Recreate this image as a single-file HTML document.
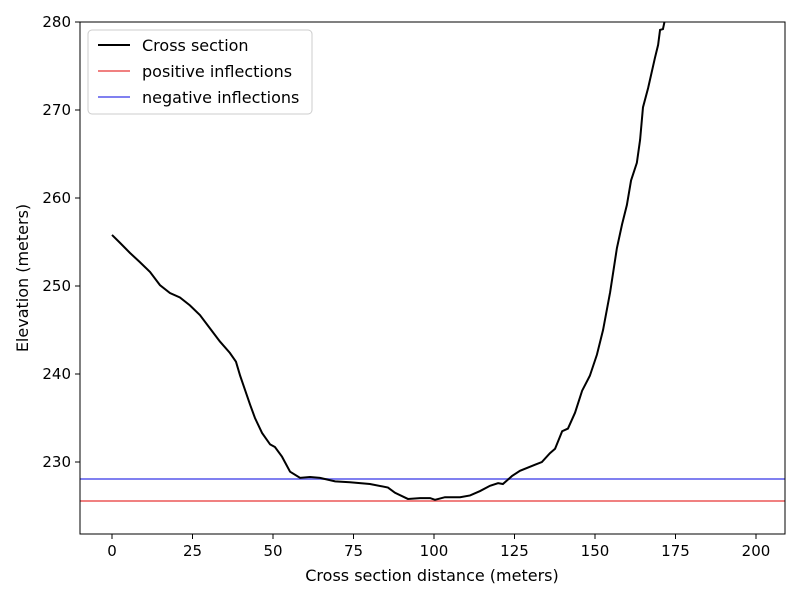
<!DOCTYPE html>
<html><head><meta charset="utf-8"><style>
body{margin:0;background:#fff;font-family:"Liberation Sans","DejaVu Sans",sans-serif}
svg text{font-family:"DejaVu Sans","Liberation Sans",sans-serif}
</style></head><body>
<svg id="chart" width="800" height="600">
<defs><clipPath id="clip"><rect x="80" y="22" width="705" height="512"/></clipPath></defs>
<g id="plot" clip-path="url(#clip)"></g>
<rect x="80" y="22" width="705" height="512" fill="none" stroke="#000" stroke-width="1"/>
<g id="axes"></g>
<text x="432" y="581" font-size="16" text-anchor="middle">Cross section distance (meters)</text>
<text transform="translate(28,278) rotate(-90)" font-size="16" text-anchor="middle">Elevation (meters)</text>
<g>
<rect x="88" y="30" width="224" height="84" rx="4" fill="#fff" stroke="#ccc"/>
<line x1="98" y1="45" x2="130" y2="45" stroke="#000" stroke-width="2"/>
<text x="142" y="51" font-size="16">Cross section</text>
<line x1="98" y1="71" x2="130" y2="71" stroke="#f08080" stroke-width="2"/>
<text x="142" y="77" font-size="16">positive inflections</text>
<line x1="98" y1="97" x2="130" y2="97" stroke="#8080f0" stroke-width="2"/>
<text x="142" y="103" font-size="16">negative inflections</text>
</g>
</svg>
<script>
const distances=[0,2.5,5.6,8.7,11.8,14.9,18,21.1,24.2,27.3,30.4,33.5,36.6,38.5,39.8,41.3,42.9,44.4,46.6,49.1,50.6,52.8,55.3,58.4,61.5,64.6,69.3,73.9,80.1,85.7,87.9,91.9,95.7,98.8,100.3,103.4,108.1,111.2,114.3,117.4,119.9,121.4,124.2,126.7,131.4,133.5,136,137.6,139.8,141.6,143.8,146,148.4,150.6,152.5,154.7,156.8,158.4,159.9,161.2,163,164,164.9,166.5,168.6,169.6,170.2,171.1,172.1,175];
const elevations=[255.8,254.9,253.75,252.7,251.6,250.1,249.2,248.7,247.8,246.7,245.2,243.7,242.4,241.4,239.8,238.2,236.5,235,233.3,232,231.7,230.6,228.9,228.2,228.3,228.2,227.8,227.7,227.5,227.1,226.5,225.8,225.9,225.9,225.7,226.0,226.0,226.2,226.7,227.3,227.6,227.5,228.4,229,229.7,230,231,231.5,233.5,233.8,235.6,238.1,239.8,242.2,245,249.3,254.3,257,259.2,262,264,266.6,270.3,272.5,275.9,277.4,279.1,279.2,280.9,284];
const positiveInflections=[225.57];
const negativeInflections=[228.07];
const xTicks=[0,25,50,75,100,125,150,175,200];
const yTicks=[230,240,250,260,270,280];
const X=v=>112+v*3.22, Y=v=>462-(v-230)*8.8;
const NS="http://www.w3.org/2000/svg";
const plot=document.getElementById('plot'), axes=document.getElementById('axes');
function mk(tag,attrs,parent){const e=document.createElementNS(NS,tag);for(const k in attrs)e.setAttribute(k,attrs[k]);parent.appendChild(e);return e;}
positiveInflections.forEach(v=>{const l=mk('line',{x1:80,x2:785,y1:Y(v),y2:Y(v),stroke:'#f08080','stroke-width':2},plot);

});
negativeInflections.forEach(v=>{const l=mk('line',{x1:80,x2:785,y1:Y(v),y2:Y(v),stroke:'#8080f0','stroke-width':2},plot);

});
const p=mk('path',{d:distances.map((d,i)=>(i?'L':'M')+X(d)+','+Y(elevations[i])).join(''),fill:'none',stroke:'#000','stroke-width':2},plot);


xTicks.forEach(t=>{mk('line',{x1:X(t),x2:X(t),y1:534,y2:539,stroke:'#000'},axes);
const tx=mk('text',{x:X(t),y:556,'font-size':15,'text-anchor':'middle'},axes);tx.textContent=t;

});
yTicks.forEach(t=>{mk('line',{x1:75,x2:80,y1:Y(t),y2:Y(t),stroke:'#000'},axes);
const tx=mk('text',{x:71,y:Y(t)+5,'font-size':15,'text-anchor':'end'},axes);tx.textContent=t;

});
</script>
</body></html>
